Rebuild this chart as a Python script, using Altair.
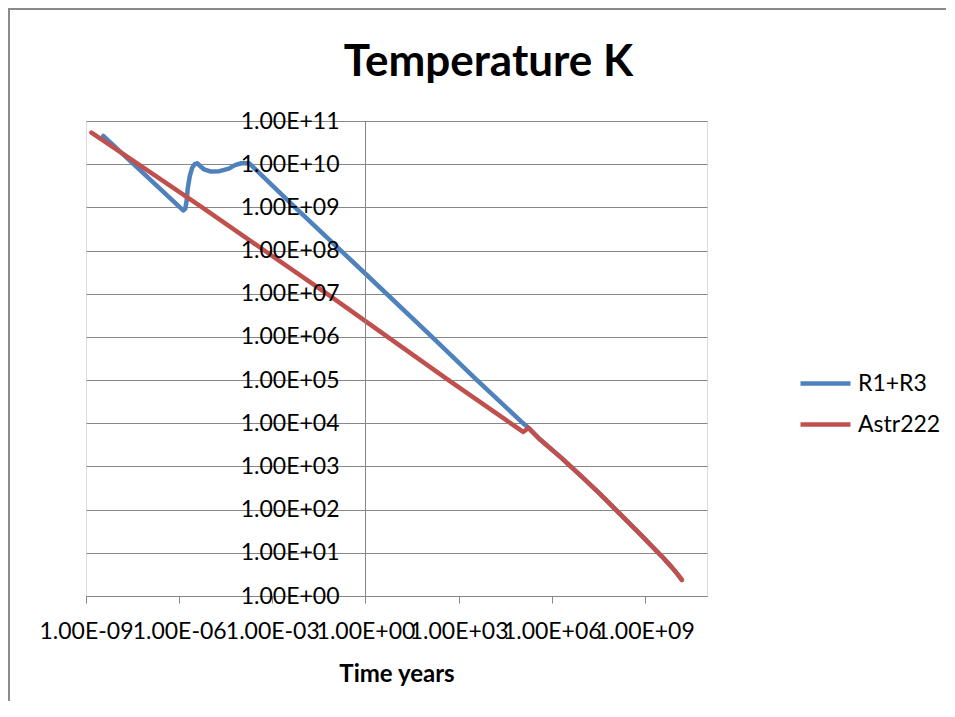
import altair as alt
import pandas as pd

# ---- data (time in years, temperature in K) ----
blue_name = "R1+R3"
blue_time = [3.6e-9, 1.0e-7, 1.35e-6, 1.58e-6, 1.74e-6, 1.9e-6, 2.19e-6, 2.63e-6,
             3.16e-6, 3.8e-6, 4.7e-6, 6.3e-6, 1.0e-5, 2.0e-5, 4.0e-5, 6.3e-5,
             1.0e-4, 1.8e-4, 2.2e-4, 6.2e-3, 1.0, 100, 3.9e3, 1.2e5, 1.78e5]
blue_temp = [4.5e10, 4.9e9, 8.5e8, 9.3e8, 1.41e9, 2.8e9, 5.2e9, 8.3e9,
             1.0e10, 1.05e10, 9.1e9, 7.6e9, 6.8e9, 6.9e9, 7.9e9, 9.5e9,
             1.05e10, 1.05e10, 9.1e9, 9.1e8, 2.9e7, 1.26e6, 1.0e5, 1.0e4, 7.8e3]

red_name = "Astr222"
red_time = [1.5e-9, 4.8e-8, 5.5e-6, 6.2e-4, 0.072, 6.2, 525, 1.2e5, 1.78e5]
red_temp = [5.4e10, 1.0e10, 1.0e9, 9.5e7, 8.9e6, 9.1e5, 9.5e4, 6.3e3, 7.8e3]

# late-time part common to both series
tail_time = [4.2e5, 2.0e6, 1.0e7, 3.5e7, 1.6e8, 6.9e8, 3.5e9, 7.4e9, 1.12e10, 1.55e10]
tail_temp = [4.2e3, 1.6e3, 550, 234, 79, 27.5, 8.3, 4.6, 3.2, 2.35]

x_ticks = [1e-9, 1e-6, 1e-3, 1e0, 1e3, 1e6, 1e9]
y_ticks = [1e0, 1e1, 1e2, 1e3, 1e4, 1e5, 1e6, 1e7, 1e8, 1e9, 1e10, 1e11]

series_names = [blue_name, red_name]
series_colors = ["#4F81BD", "#C0504D"]

rows = []
for t, v in zip(blue_time + tail_time, blue_temp + tail_temp):
    rows.append({"series": blue_name, "time": t, "temp": v})
for t, v in zip(red_time + tail_time, red_temp + tail_temp):
    rows.append({"series": red_name, "time": t, "temp": v})
df = pd.DataFrame(rows)

# ---- layout constants ----
W, H = 621, 475
PAD_L, PAD_T = 78, 113
GRID = "#878787"
FONT = "Lato"

exp_label = ("'1.00E' + (datum.value < 1 ? '-' : '+') + "
             "(abs(round(log(datum.value)/LN10)) < 10 ? '0' : '') + "
             "abs(round(log(datum.value)/LN10))")

x_enc = alt.X(
    "time:Q",
    scale=alt.Scale(type="log", domain=[1e-9, 1e11], nice=False),
    axis=alt.Axis(
        values=x_ticks, labelExpr=exp_label, grid=False,
        domainColor=GRID, domainWidth=1, tickColor=GRID, tickSize=7, tickWidth=1,
        labelFont=FONT, labelFontSize=23, labelColor="#000000", labelPadding=17,
        labelOverlap=False, labelFlush=False, labelBound=False,
        title="Time years", titleFont=FONT, titleFontSize=24, titleFontWeight="bold",
        titleColor="#000000", titlePadding=19,
    ),
)
y_scale = alt.Scale(type="log", domain=[1, 1e11], nice=False)

grid_layer = alt.Chart(df).mark_line(opacity=0).encode(
    x=x_enc,
    y=alt.Y("temp:Q", scale=y_scale,
            axis=alt.Axis(orient="left", values=y_ticks, grid=True, gridColor=GRID,
                          gridWidth=1, gridOpacity=1, labels=False, ticks=False,
                          domain=False, title=None, zindex=0)),
    detail="series:N",
)

y_label_axis = alt.Axis(
    orient="left", offset=-279, values=y_ticks, labelExpr=exp_label, grid=False,
    ticks=False, domainColor=GRID, domainWidth=1, labelFont=FONT, labelFontSize=23,
    labelColor="#000000", labelPadding=26, labelOverlap=False, labelBound=False,
    labelFlush=False, title=None, zindex=1,
)

color_enc = alt.Color(
    "series:N",
    scale=alt.Scale(domain=series_names, range=series_colors),
    legend=alt.Legend(
        orient="none", legendX=712, legendY=235, title=None, symbolType="stroke",
        symbolSize=2500, symbolStrokeWidth=4.5, labelFont=FONT, labelFontSize=23,
        labelColor="#000000", labelOffset=5, rowPadding=1, padding=0,
    ),
)

def series_line(name):
    return alt.Chart(df).transform_filter(alt.datum.series == name).mark_line(
        strokeWidth=4.5, interpolate="linear", strokeCap="round", strokeJoin="round"
    ).encode(
        x=x_enc,
        y=alt.Y("temp:Q", scale=y_scale, axis=y_label_axis),
        color=color_enc,
        order="time:Q",
    )

lines = alt.layer(series_line(blue_name), series_line(red_name))

frame_df = pd.DataFrame({"k": [0]})
frame_left = alt.Chart(frame_df).mark_rule(color="#8a8a8a", strokeWidth=2).encode(
    x=alt.value(-77), y=alt.value(-112), y2=alt.value(600))
frame_top = alt.Chart(frame_df).mark_rule(color="#8a8a8a", strokeWidth=2).encode(
    x=alt.value(-78), x2=alt.value(870), y=alt.value(-112))

chart = alt.layer(frame_left, frame_top, grid_layer, lines).resolve_axis(
    y="independent"
).properties(
    width=W, height=H,
    title=alt.TitleParams("Temperature K", font=FONT, fontSize=44, fontWeight="bold",
                          color="#000000", anchor="middle", dx=92, offset=-77),
    autosize=alt.AutoSizeParams(type="none"),
    padding={"left": PAD_L, "top": PAD_T, "right": 239, "bottom": 105},
).configure_view(stroke=None).configure(font=FONT)

chart.save("out.html", embed_options={"renderer": "svg", "actions": False})
